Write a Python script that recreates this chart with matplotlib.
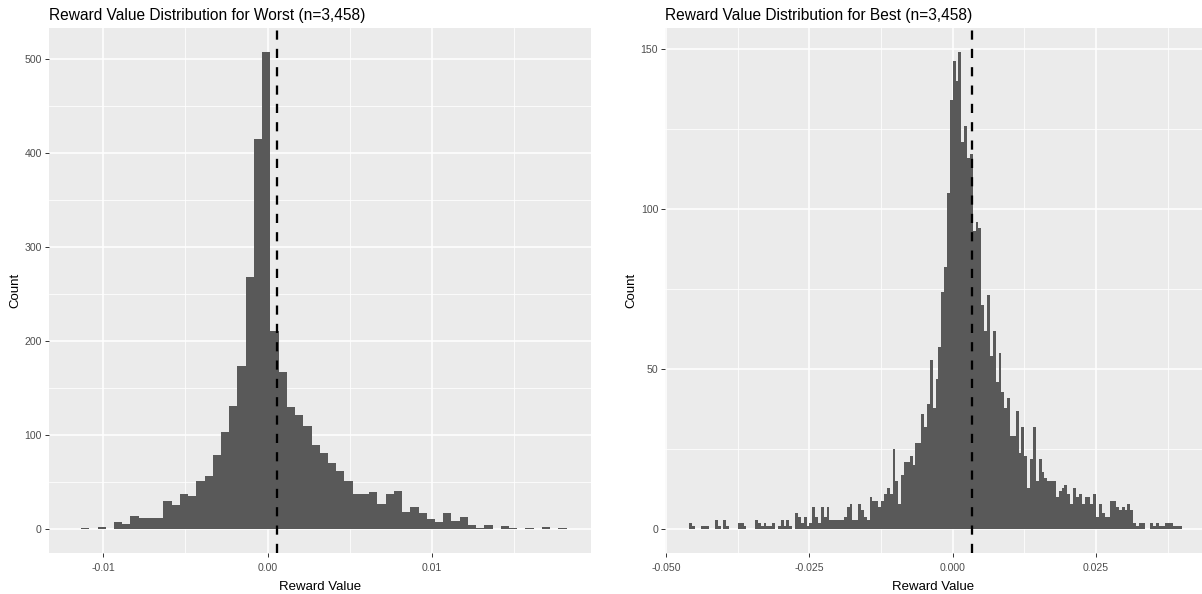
import matplotlib
matplotlib.use("Agg")
import matplotlib.pyplot as plt
import numpy as np
from matplotlib.ticker import FixedLocator

plt.rcParams['font.family'] = ['Liberation Sans', 'DejaVu Sans']

# ---- Worst: histogram of reward values (binwidth 0.0005) ----
worst_bin_start = -0.01133
worst_bin_width = 0.0005
worst_counts = [2, 0, 3, 0, 8, 6, 14, 12, 12, 12, 30, 26, 38, 36, 51, 57, 79, 104, 131,
                174, 268, 415, 508, 211, 167,
                130, 122, 110, 90, 81, 71, 62, 51, 38, 38, 40, 27, 38, 41, 19, 24, 18,
                11, 8, 17, 9, 13, 5,
                1, 5, 0, 4, 1, 0, 1, 0, 3, 0, 1]
worst_mean = 0.0006

# ---- Best: histogram of reward values (binwidth 0.0005) ----
best_bin_start = -0.046
best_bin_width = 0.0005
best_counts = [2, 1, 0, 0, 1, 1, 1, 0, 0, 3, 1, 0, 3, 1, 0, 0, 0, 2, 2, 1,
               0, 0, 0, 3, 2, 1, 2, 1, 1, 2, 0, 1, 3, 1, 3, 1, 0, 5, 4, 2,
               4, 1, 2, 7, 4, 2, 7, 4, 7, 3, 3, 3, 3, 3, 4, 7,
               8, 3, 3, 8, 6, 4, 3, 10, 9, 9, 7, 9, 11, 13, 11, 25, 15, 8, 17, 21,
               21, 23, 20, 27, 27, 36, 32, 39, 53, 38, 47, 57, 74, 82, 105, 134,
               146, 140, 149,
               121, 126, 116, 117, 93, 96, 94, 70, 62, 73, 54, 62, 46, 55, 43, 38,
               41, 29, 29, 37, 24, 32, 23, 13, 22, 32, 15, 22, 18, 16, 15, 15, 15,
               10, 12,
               13, 14, 11, 8, 13, 10, 11, 8, 10, 10, 8, 11, 4, 8, 5, 4, 4, 9, 9, 7,
               6, 7, 6, 8, 6, 2, 1, 2, 2, 0, 0, 2, 1, 2, 1, 1, 2, 2, 2, 1, 1, 1]
best_mean = 0.0033

worst_xticks = [-0.01, 0.0, 0.01]
worst_xticklabels = ["-0.01", "0.00", "0.01"]
worst_xminor = [-0.005, 0.005, 0.015]
worst_yticks = [0, 100, 200, 300, 400, 500]
worst_yminor = [50, 150, 250, 350, 450]

best_xticks = [-0.05, -0.025, 0.0, 0.025]
best_xticklabels = ["-0.050", "-0.025", "0.000", "0.025"]
best_xminor = [-0.0375, -0.0125, 0.0125, 0.0375]
best_yticks = [0, 50, 100, 150]
best_yminor = [25, 75, 125]

titles = ["Reward Value Distribution for Worst (n=3,458)",
          "Reward Value Distribution for Best (n=3,458)"]

W, H = 1202, 594
fig = plt.figure(figsize=(W / 100, H / 100), dpi=100)
fig.patch.set_facecolor("white")

BG = "#EBEBEB"
BAR = "#595959"
TICKTXT = "#4D4D4D"


def panel(rect, start, width, counts, mean, xlim, xt, xtl, xmin, yt, ymin, title):
    ax = fig.add_axes(rect)
    ax.set_facecolor(BG)
    counts = np.asarray(counts, dtype=float)
    lefts = start + width * np.arange(len(counts))
    ax.bar(lefts, counts, width=width, align="edge", color=BAR,
           edgecolor="none", linewidth=0, zorder=2)
    ax.axvline(mean, color="black", linewidth=1.65, linestyle=(0, (4, 4)),
               dash_capstyle="butt", zorder=3)
    ax.set_xlim(*xlim)
    top = counts.max()
    ax.set_ylim(-0.05 * top, 1.05 * top)
    ax.xaxis.set_major_locator(FixedLocator(xt))
    ax.set_xticklabels(xtl)
    ax.xaxis.set_minor_locator(FixedLocator(xmin))
    ax.yaxis.set_major_locator(FixedLocator(yt))
    ax.yaxis.set_minor_locator(FixedLocator(ymin))
    ax.set_axisbelow(True)
    ax.grid(which="major", color="white", linewidth=1.1, zorder=0)
    ax.grid(which="minor", color="white", linewidth=0.55, zorder=0)
    for s in ax.spines.values():
        s.set_visible(False)
    ax.tick_params(which="major", direction="out", length=2.75, width=0.7,
                   color="#333333", labelsize=7.6, labelcolor=TICKTXT, pad=2.2)
    ax.tick_params(axis="x", which="major", pad=4.2)
    ax.tick_params(which="minor", length=0)
    ax.set_xlabel("Reward Value", fontsize=9.5, labelpad=5.5)
    ax.set_ylabel("Count", fontsize=9.5, labelpad=2.5)
    x0 = rect[0]
    fig.text(x0, 1 - 20 / H, title, fontsize=11.2, ha="left", va="baseline",
             color="black")
    return ax


bottom = 1 - 553.3 / H
height = (553.3 - 28) / H

panel([48.7 / W, bottom, (591 - 48.7) / W, height],
      worst_bin_start, worst_bin_width, worst_counts, worst_mean,
      (-0.0133, 0.01965), worst_xticks, worst_xticklabels, worst_xminor,
      worst_yticks, worst_yminor, titles[0])

panel([665 / W, bottom, (W - 665) / W, height],
      best_bin_start, best_bin_width, best_counts, best_mean,
      (-0.0502, 0.0435), best_xticks, best_xticklabels, best_xminor,
      best_yticks, best_yminor, titles[1])

fig.savefig("out.png", dpi=100)
